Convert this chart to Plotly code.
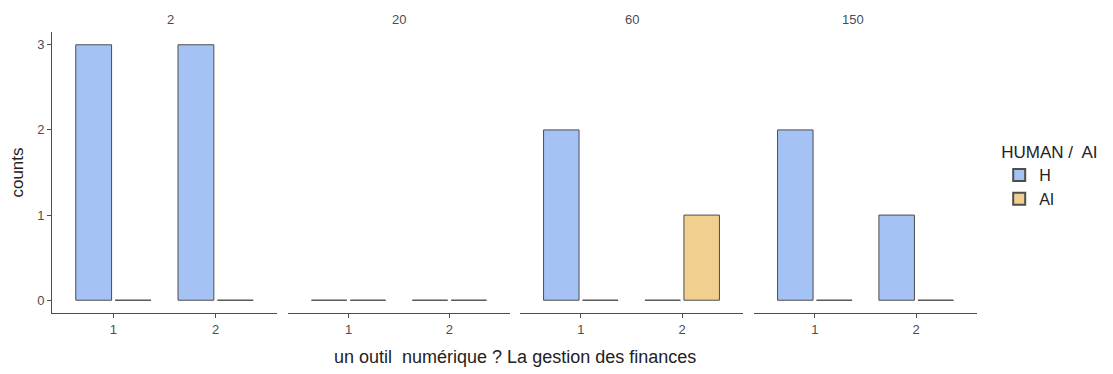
import plotly.graph_objects as go

facets = ["2", "20", "60", "150"]
categories = ["1", "2"]
groups = ["H", "AI"]
counts_H = [[3, 3], [0, 0], [2, 0], [2, 1]]
counts_AI = [[0, 0], [0, 0], [0, 1], [0, 0]]
colors = {"H": "#A4C2F4", "AI": "#F1CF8F"}

# page body has an 8px margin; the figure is sized to fit the window exactly
OFF = 8
W, H = 1113 - OFF, 374 - OFF
ml, mt = 52 - OFF, 32 - OFF
mr = 1113 - 977
mb = 374 - 313
pw = W - ml - mr
spans = [(52, 277), (288, 510), (520, 743), (754, 977)]
domains = [((a - 52) / pw, (b - 52) / pw) for a, b in spans]

fig = go.Figure()
axis_color = "#4d4d4d"
tick_color = "#4d4d4d"
title_color = "#222222"
font = "Liberation Sans, Arial, sans-serif"

for i, fac in enumerate(facets):
    xa = "x" if i == 0 else f"x{i+1}"
    for g, vals in (("H", counts_H[i]), ("AI", counts_AI[i])):
        fig.add_trace(go.Bar(
            x=categories, y=vals, name=g, legendgroup=g,
            showlegend=(i == 0), xaxis=xa, yaxis="y",
            marker=dict(color=colors[g], line=dict(color=axis_color, width=1)),
        ))
    key = "xaxis" if i == 0 else f"xaxis{i+1}"
    fig.layout[key] = dict(
        domain=list(domains[i]), anchor="y", type="category",
        categoryorder="array", categoryarray=categories,
        range=[-0.6, 1.6], showline=True, linecolor=axis_color, linewidth=1,
        ticks="outside", ticklen=4, tickcolor=axis_color, showgrid=False,
        zeroline=False, automargin=False,
        tickfont=dict(size=13, color=tick_color, family=font),
    )
    fig.add_annotation(
        x=sum(domains[i]) / 2, y=1, xref="paper", yref="paper",
        text=fac, showarrow=False, yanchor="bottom", yshift=3,
        font=dict(size=13, color=tick_color, family=font),
    )

fig.update_layout(
    width=W, height=H,
    margin=dict(l=ml, r=mr, t=mt, b=mb, autoexpand=False),
    plot_bgcolor="white", paper_bgcolor="white",
    barmode="group", bargap=0.23, bargroupgap=0.09,
    yaxis=dict(
        range=[-0.15, 3.15], tickvals=[0, 1, 2, 3], showline=True,
        linecolor=axis_color, linewidth=1, ticks="outside", ticklen=4,
        tickcolor=axis_color, showgrid=False, zeroline=False, automargin=False,
        title=dict(text="counts", font=dict(size=17, color=title_color, family=font), standoff=10),
        tickfont=dict(size=13, color=tick_color, family=font),
    ),
    legend=dict(
        title=dict(text="HUMAN /  AI", font=dict(size=17, color=title_color, family=font)),
        x=1.024, y=0.63, xanchor="left", yanchor="top",
        font=dict(size=16, color=title_color, family=font),
        tracegroupgap=0, itemsizing="constant",
    ),
)
fig.add_annotation(
    x=(domains[0][0] + domains[3][1]) / 2, y=0, xref="paper", yref="paper",
    text="un outil  numérique ? La gestion des finances", showarrow=False,
    yanchor="top", yshift=-32,
    font=dict(size=18, color=title_color, family=font),
)

fig.write_html("out.html")
